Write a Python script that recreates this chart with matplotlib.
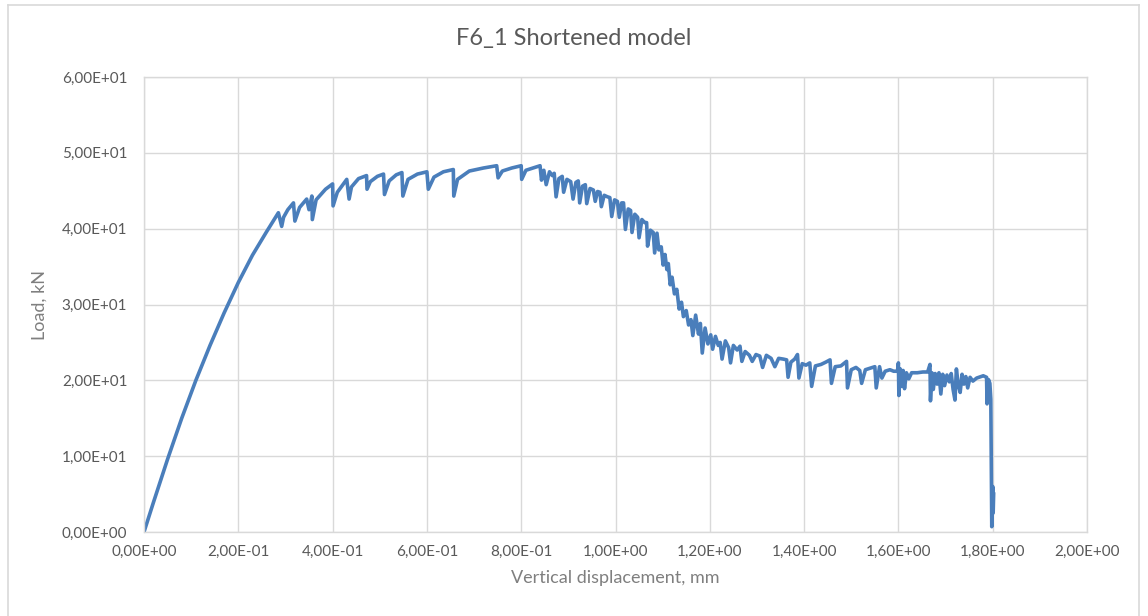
import matplotlib
matplotlib.use("Agg")
import matplotlib.pyplot as plt
from matplotlib.ticker import FuncFormatter, MultipleLocator
from matplotlib.lines import Line2D

plt.rcParams['font.family'] = ['Lato', 'DejaVu Sans']

# Load-displacement response of the shortened F6_1 model
disp_mm = [
    0.000, 0.020, 0.050, 0.080, 0.110, 0.140, 0.170, 0.200, 0.230, 0.260, 0.285,
    0.292, 0.296, 0.305, 0.317, 0.320, 0.330, 0.345, 0.350, 0.356, 0.357, 0.365,
    0.385, 0.400, 0.401, 0.410, 0.430, 0.435, 0.440, 0.455, 0.472, 0.473, 0.480,
    0.495, 0.508, 0.510, 0.520, 0.535, 0.547, 0.549, 0.560, 0.580, 0.600, 0.603,
    0.615, 0.635, 0.656, 0.657, 0.665, 0.690, 0.720, 0.748, 0.751, 0.760, 0.780,
    0.800, 0.801, 0.810, 0.825, 0.840,
    0.843, 0.848, 0.853, 0.860, 0.866, 0.870, 0.874, 0.880, 0.887, 0.890, 0.897,
    0.905, 0.910, 0.916, 0.921, 0.924, 0.930, 0.936, 0.939, 0.946, 0.953, 0.957,
    0.962, 0.967, 0.970, 0.976, 0.983, 0.988, 0.992, 0.998, 1.004, 1.008, 1.013,
    1.017, 1.021, 1.027, 1.032, 1.035, 1.041, 1.047, 1.050, 1.056, 1.062, 1.066,
    1.068, 1.074, 1.080, 1.083, 1.088, 1.092, 1.097, 1.101, 1.105, 1.109, 1.112,
    1.116, 1.120, 1.125, 1.130, 1.135, 1.140, 1.144, 1.150, 1.155, 1.160, 1.164,
    1.170, 1.176, 1.180, 1.184, 1.190, 1.196, 1.202, 1.206, 1.212, 1.218, 1.222,
    1.226, 1.233, 1.240, 1.244, 1.250, 1.258, 1.264, 1.268, 1.275, 1.284, 1.290,
    1.298, 1.306, 1.312, 1.320, 1.330, 1.338, 1.346, 1.356, 1.363, 1.366, 1.372,
    1.380, 1.386, 1.389, 1.396, 1.404, 1.412, 1.416, 1.424, 1.436, 1.446, 1.455,
    1.458, 1.466, 1.478, 1.490, 1.492, 1.500, 1.510, 1.518, 1.522, 1.530, 1.540,
    1.550, 1.553, 1.560, 1.565, 1.572, 1.582, 1.590, 1.598, 1.600, 1.601, 1.604,
    1.607, 1.610, 1.613, 1.617, 1.622, 1.628, 1.640, 1.652, 1.662, 1.667, 1.668,
    1.671, 1.674, 1.678, 1.682, 1.686, 1.690, 1.694, 1.698, 1.703, 1.708, 1.712,
    1.716, 1.720, 1.723, 1.727, 1.731, 1.735, 1.739, 1.743, 1.747, 1.752, 1.758,
    1.766, 1.780, 1.787, 1.788, 1.791, 1.794, 1.796, 1.798, 1.800, 1.801, 1.802,
]
load_kn = [
    0.0, 3.9, 9.6, 15.0, 20.0, 24.6, 28.9, 32.9, 36.5, 39.6, 42.1,
    40.3, 41.5, 42.5, 43.4, 41.0, 42.8, 43.9, 42.5, 44.3, 41.2, 43.8,
    45.2, 45.9, 43.0, 44.8, 46.5, 43.9, 45.5, 46.6, 47.0, 45.2, 46.2,
    46.9, 47.2, 44.5, 46.3, 47.1, 47.4, 44.3, 46.5, 47.2, 47.5, 45.2,
    46.8, 47.5, 47.8, 44.3, 46.5, 47.6, 48.0, 48.3, 46.7, 47.6, 48.0,
    48.3, 46.5, 47.7, 48.0, 48.3,
    46.4, 47.7, 45.8, 47.5, 47.0, 47.3, 44.2, 46.6, 46.9, 44.8, 46.5,
    46.2, 43.9, 46.1, 46.3, 43.4, 45.6, 45.8, 43.3, 45.3, 45.1, 43.6,
    44.9, 44.8, 42.9, 44.4, 44.2, 44.1, 41.6, 43.8, 43.6, 41.5, 43.4,
    43.4, 39.9, 42.6, 42.4, 39.5, 41.9, 41.5, 38.8, 41.2, 40.8, 40.8,
    37.7, 39.8, 39.5, 36.8, 39.4, 37.2, 37.6, 35.2, 36.6, 34.6, 35.4,
    32.6, 33.6, 31.4, 32.0, 29.4, 30.3, 28.4, 29.2, 27.3, 28.0, 25.9,
    28.6, 26.1, 27.5, 23.6, 26.9, 24.8, 26.0, 24.1, 25.8, 24.6, 25.0,
    22.8, 25.2, 24.3, 22.3, 24.6, 24.0, 24.5, 22.5, 23.8, 23.3, 22.5,
    23.4, 23.2, 21.7, 23.3, 22.9, 21.8, 22.9, 22.8, 22.7, 20.4, 22.4,
    22.8, 23.4, 20.3, 22.2, 22.0, 22.3, 19.2, 21.9, 22.1, 22.4, 22.7,
    19.6, 21.8, 21.9, 22.5, 19.0, 21.4, 21.7, 21.3, 19.6, 21.4, 21.6,
    21.8, 19.0, 21.8, 20.3, 21.2, 21.4, 21.2, 21.2, 22.3, 18.0, 21.5,
    19.2, 21.3, 18.9, 21.0, 20.2, 21.0, 21.0, 21.1, 21.1, 22.1, 17.3,
    21.0, 18.8, 20.9, 19.5, 21.0, 18.2, 20.8, 19.3, 20.7, 19.8, 20.9,
    18.8, 17.4, 21.5, 19.4, 18.4, 20.8, 19.5, 20.5, 19.0, 20.4, 19.9,
    20.3, 20.6, 20.4, 16.9, 20.1, 19.6, 17.5, 0.7, 6.0, 2.5, 5.0,
]

title = "F6_1 Shortened model"
x_label = "Vertical displacement, mm"
y_label = "Load, kN"

LINE_BLUE = "#4A7EBB"
GRID_GRAY = "#D9D9D9"
TEXT_GRAY = "#595959"
LABEL_GRAY = "#7F7F7F"

fig = plt.figure(figsize=(11.48, 6.16), dpi=100)
ax = fig.add_axes([144 / 1148, 1 - 532 / 616, (1087 - 144) / 1148, (532 - 77) / 616])

ax.plot(disp_mm, load_kn, color=LINE_BLUE, linewidth=2.6, solid_joinstyle='round')

ax.set_xlim(0, 2.0)
ax.set_ylim(0, 60)
ax.xaxis.set_major_locator(MultipleLocator(0.2))
ax.yaxis.set_major_locator(MultipleLocator(10))


def sci_comma(v, pos):
    return "{:.2E}".format(v).replace(".", ",")


ax.xaxis.set_major_formatter(FuncFormatter(sci_comma))
ax.yaxis.set_major_formatter(FuncFormatter(sci_comma))

ax.grid(True, color=GRID_GRAY, linewidth=1.0)
ax.set_axisbelow(True)
for side in ax.spines.values():
    side.set_color(GRID_GRAY)
    side.set_linewidth(1.0)
ax.tick_params(axis='both', length=0, labelsize=11, labelcolor=TEXT_GRAY)
ax.tick_params(axis='x', pad=9)
ax.tick_params(axis='y', pad=12)

fig.text(574 / 1148, 1 - 38 / 616, title, fontsize=17, color=TEXT_GRAY,
         ha='center', va='center')
ax.set_xlabel(x_label, fontsize=13, color=LABEL_GRAY, labelpad=8)
ax.set_ylabel(y_label, fontsize=13, color=LABEL_GRAY, labelpad=10)

# light frame around the whole chart
frame_kw = dict(color=GRID_GRAY, linewidth=1.2, transform=fig.transFigure)
fig.add_artist(Line2D([8 / 1148, 8 / 1148], [0, 1 - 5 / 616], **frame_kw))
fig.add_artist(Line2D([8 / 1148, 1139 / 1148], [1 - 5 / 616, 1 - 5 / 616], **frame_kw))
fig.add_artist(Line2D([1139 / 1148, 1139 / 1148], [0, 1 - 5 / 616], **frame_kw))

fig.savefig("out.png", dpi=100)
